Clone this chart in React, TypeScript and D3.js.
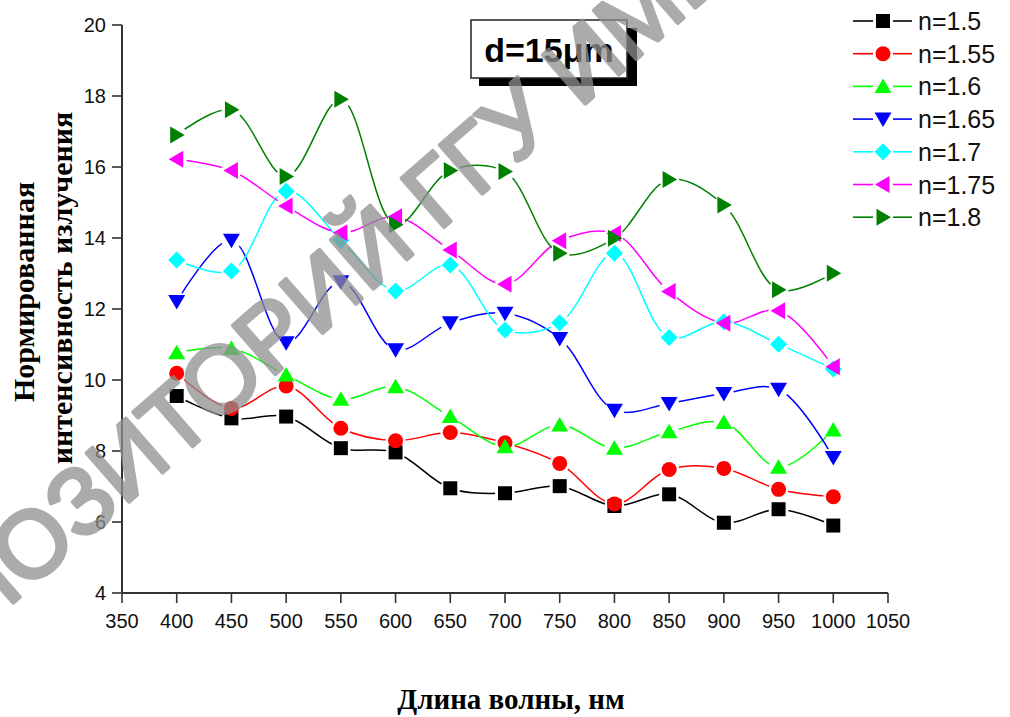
import React from "react";
import * as d3 from "d3";

const wavelengths = [400, 450, 500, 550, 600, 650, 700, 750, 800, 850, 900, 950, 1000];
const seriesNames = ["n=1.5", "n=1.55", "n=1.6", "n=1.65", "n=1.7", "n=1.75", "n=1.8"];
const n150 = [9.55, 8.92, 8.97, 8.08, 7.96, 6.95, 6.81, 7.01, 6.45, 6.78, 5.98, 6.36, 5.9];
const n155 = [10.19, 9.2, 9.83, 8.64, 8.29, 8.52, 8.23, 7.65, 6.51, 7.48, 7.51, 6.92, 6.71];
const n160 = [10.77, 10.89, 10.14, 9.46, 9.81, 8.97, 8.12, 8.73, 8.08, 8.54, 8.8, 7.54, 8.59];
const n165 = [12.21, 13.94, 11.05, 12.77, 10.85, 11.61, 11.88, 11.17, 9.15, 9.34, 9.62, 9.74, 7.82];
const n170 = [13.38, 13.07, 15.32, 13.94, 12.51, 13.24, 11.41, 11.61, 13.57, 11.2, 11.64, 11.01, 10.31];
const n175 = [16.22, 15.9, 14.9, 14.15, 14.6, 13.66, 12.7, 13.92, 14.13, 12.49, 11.6, 11.95, 10.37];
const n180 = [16.9, 17.61, 15.73, 17.91, 14.37, 15.9, 15.87, 13.57, 13.99, 15.65, 14.93, 12.54, 13.01];
const seriesValues = [n150, n155, n160, n165, n170, n175, n180];
const seriesColors = ["#000000", "#ff0000", "#00ff00", "#0000ff", "#00ffff", "#ff00ff", "#008000"];
const seriesShapes = ["square", "circle", "up", "down", "diamond", "left", "right"];
const xTicks = [350, 400, 450, 500, 550, 600, 650, 700, 750, 800, 850, 900, 950, 1000, 1050];
const yTicks = [4, 6, 8, 10, 12, 14, 16, 18, 20];

const W = 1010;
const H = 717;
const x = d3.scaleLinear().domain([350, 1050]).range([122, 888]);
const y = d3.scaleLinear().domain([4, 20]).range([593, 25]);

function markerPath(shape: string): string {
  const s = 7.5;
  switch (shape) {
    case "square":
      return `M${-7},${-7}H7V7H-7Z`;
    case "up":
      return `M0,${-s - 0.5}L${s + 1},${s - 1}L${-s - 1},${s - 1}Z`;
    case "down":
      return `M0,${s + 0.5}L${s + 1},${-s + 1}L${-s - 1},${-s + 1}Z`;
    case "left":
      return `M${-s - 0.5},0L${s - 1},${-s - 1}L${s - 1},${s + 1}Z`;
    case "right":
      return `M${s + 0.5},0L${-s + 1},${-s - 1}L${-s + 1},${s + 1}Z`;
    case "diamond":
      return `M0,${-s - 1}L${s + 1},0L0,${s + 1}L${-s - 1},0Z`;
    default:
      return "";
  }
}

function Marker({ shape, color, cx, cy }: { shape: string; color: string; cx: number; cy: number }) {
  if (shape === "circle") return <circle cx={cx} cy={cy} r={7.5} fill={color} />;
  return <path d={markerPath(shape)} transform={`translate(${cx},${cy})`} fill={color} />;
}

export default function App() {
  const line = d3
    .line<number>()
    .x((_, i) => x(wavelengths[i]))
    .y((v) => y(v))
    .curve(d3.curveCatmullRom.alpha(0.5));

  const tickFont = "'Liberation Sans', Arial, sans-serif";
  const legendRows = seriesNames.map((_, i) => 21 + i * 32.7);

  return (
    <svg width={W} height={H} style={{ display: "block", position: "absolute", left: 0, top: 0 }}>
      <rect width={W} height={H} fill="#fff" />
      <defs>
        {seriesValues.map((vals, si) => (
          <mask id={`m${si}`} key={si} maskUnits="userSpaceOnUse" x={0} y={0} width={W} height={H}>
            <rect width={W} height={H} fill="#fff" />
            {vals.map((v, i) => (
              <circle key={i} cx={x(wavelengths[i])} cy={y(v)} r={10} fill="#000" />
            ))}
          </mask>
        ))}
      </defs>

      {/* axes */}
      <g stroke="#333" fill="none">
        <line x1={x(350)} x2={x(1050)} y1={y(4)} y2={y(4)} strokeWidth={2} />
        <line x1={x(350)} x2={x(350)} y1={y(4)} y2={y(20)} strokeWidth={2} />
        {xTicks.map((t) => (
          <line key={t} x1={x(t)} x2={x(t)} y1={y(4)} y2={y(4) + 10} strokeWidth={1.6} />
        ))}
        {yTicks.map((t) => (
          <line key={t} x1={x(350) - 10} x2={x(350)} y1={y(t)} y2={y(t)} strokeWidth={1.6} />
        ))}
      </g>
      <g fontFamily={tickFont} fontSize={20} fill="#111">
        {xTicks.map((t) => (
          <text key={t} x={x(t)} y={628} textAnchor="middle">
            {t}
          </text>
        ))}
        {yTicks.map((t) => (
          <text key={t} x={106} y={y(t) + 7} textAnchor="end">
            {t}
          </text>
        ))}
      </g>

      {/* series */}
      {seriesValues.map((vals, si) => (
        <g key={si}>
          <path d={line(vals) || ""} fill="none" stroke={seriesColors[si]} strokeWidth={1.5} mask={`url(#m${si})`} />
          {vals.map((v, i) => (
            <Marker key={i} shape={seriesShapes[si]} color={seriesColors[si]} cx={x(wavelengths[i])} cy={y(v)} />
          ))}
        </g>
      ))}

      {/* legend */}
      <g>
        {seriesNames.map((name, i) => (
          <g key={name}>
            <line x1={853} x2={873} y1={legendRows[i]} y2={legendRows[i]} stroke={seriesColors[i]} strokeWidth={1.6} />
            <line x1={893} x2={912} y1={legendRows[i]} y2={legendRows[i]} stroke={seriesColors[i]} strokeWidth={1.6} />
            <Marker shape={seriesShapes[i]} color={seriesColors[i]} cx={883} cy={legendRows[i]} />
            <text x={918} y={legendRows[i] + 9} fontFamily={tickFont} fontSize={25} fill="#111">
              {name}
            </text>
          </g>
        ))}
      </g>

      {/* title box */}
      <rect x={479} y={28} width={158} height={58} fill="#000" />
      <rect x={471} y={20} width={156} height={58} fill="#fff" stroke="#222" strokeWidth={1.5} />
      <text x={549} y={62} textAnchor="middle" fontFamily="'Liberation Sans', Arial, sans-serif" fontWeight="bold" fontSize={34} fill="#000">
        d=15μm
      </text>

      {/* axis titles */}
      <g fontFamily="'Liberation Serif', 'Times New Roman', serif" fontWeight="bold" fill="#000">
        <text transform="translate(34,292) rotate(-90)" textAnchor="middle" fontSize={30}>
          Нормированная
        </text>
        <text transform="translate(72,288) rotate(-90)" textAnchor="middle" fontSize={30}>
          интенсивность излучения
        </text>
        <text x={511} y={709} textAnchor="middle" fontSize={29}>
          Длина волны, нм
        </text>
      </g>

      {/* watermark */}
      <text
        transform="translate(-120,719) rotate(-41.1)"
        fontFamily="'Liberation Sans', Arial, sans-serif"
        fontSize={94}
        fill="#8f8f8f"
        stroke="#8f8f8f"
        strokeWidth={4}
        strokeLinejoin="round"
        opacity={0.75}
      >
        РЕПОЗИТОРИЙ ГГУ ИМЕНИ Ф. СКОРИНЫ
      </text>
    </svg>
  );
}
